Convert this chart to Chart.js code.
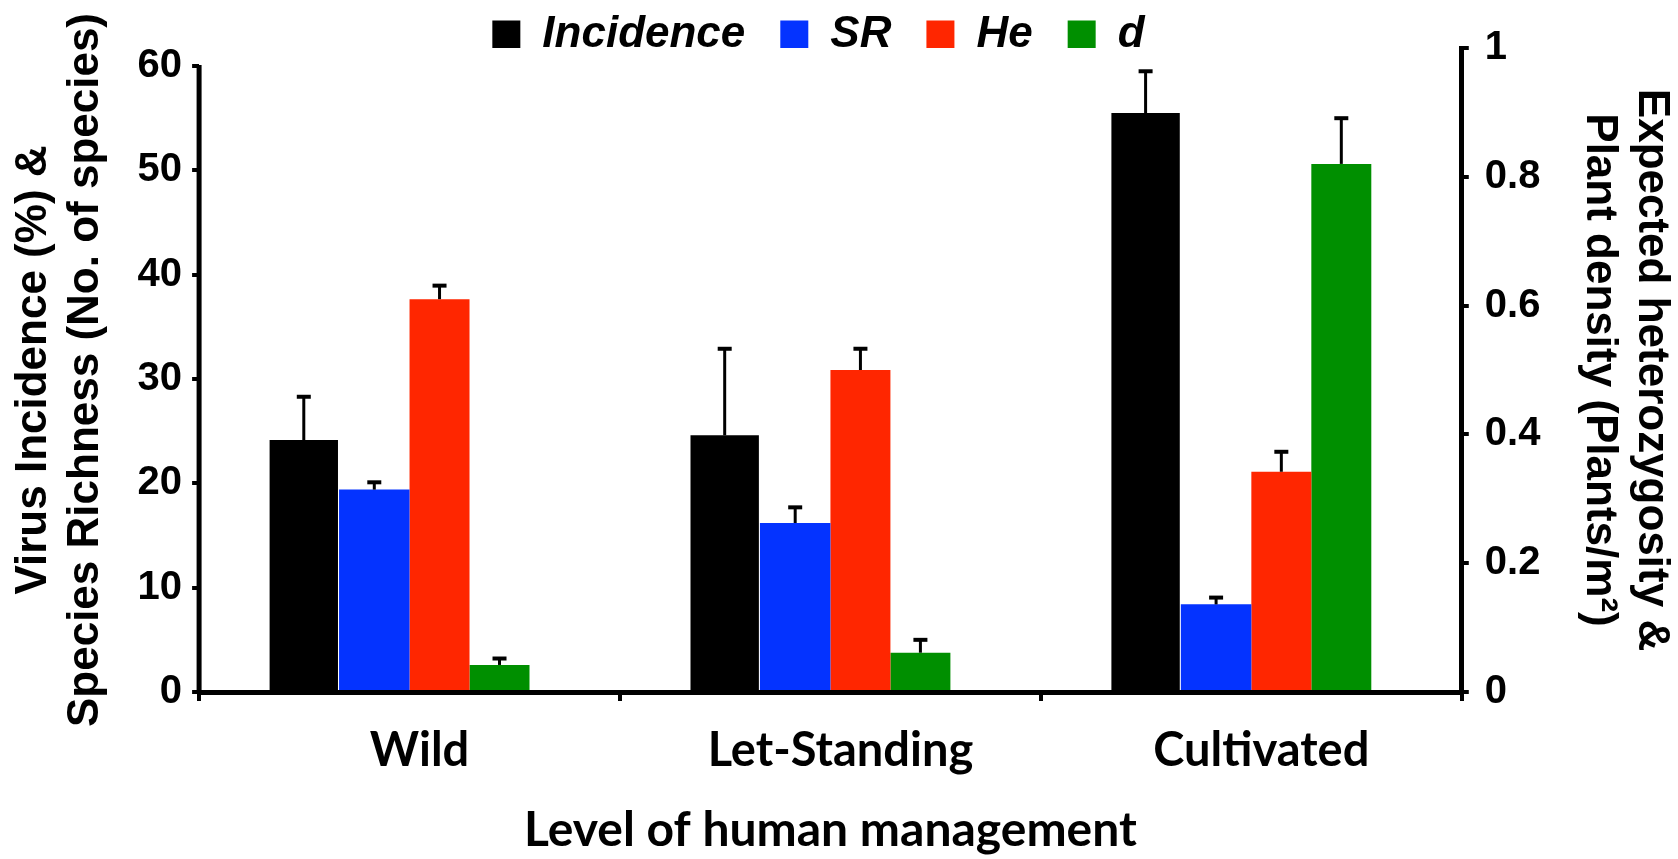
<!DOCTYPE html>
<html>
<head>
<meta charset="utf-8">
<script src="https://cdn.jsdelivr.net/npm/chart.js@4/dist/chart.umd.min.js"></script>
<style>
  html, body { margin: 0; padding: 0; background: #ffffff; }
  #wrap { width: 1678px; height: 859px; }
</style>
</head>
<body>
<div id="wrap"><canvas id="c" width="1678" height="859"></canvas></div>
<script>
// ---- data ----
const categories = ['Wild', 'Let-Standing', 'Cultivated'];
const seriesNames = ['Incidence', 'SR', 'He', 'd'];
const incidence = [24.15, 24.6, 55.5];
const incidenceErr = [4.15, 8.3, 4.0];
const speciesRichness = [19.4, 16.2, 8.4];
const speciesRichnessErr = [0.7, 1.5, 0.65];
const heterozygosity = [0.61, 0.50, 0.342];
const heterozygosityErr = [0.021, 0.033, 0.031];
const density = [0.042, 0.061, 0.82];
const densityErr = [0.010, 0.020, 0.071];
const leftTicks = [0, 10, 20, 30, 40, 50, 60];
const rightTicks = [0, 0.2, 0.4, 0.6, 0.8, 1];
const rightTickLabels = ['0', '0.2', '0.4', '0.6', '0.8', '1'];
const leftTitle = ['Virus Incidence (%) &', 'Species Richness (No. of species)'];
const rightTitle = ['Expected heterozygosity &', 'Plant density (Plants/m\u00B2)'];
const xTitle = 'Level of human management';

const ARIAL = '"Liberation Sans", Arial, Helvetica, sans-serif';
const CALIBRI = 'Lato, "Open Sans", sans-serif';

// the left axis value that sits at the same height as 1 on the right axis
const LEFT_MAX = 61.73;

const legendShift = {
  id: 'legendShift',
  afterLayout(chart) {
    const lg = chart.legend;
    if (lg) { lg.left -= 12; lg.right -= 12; }
  }
};

const errorBars = {
  id: 'errorBars',
  afterDatasetsDraw(chart) {
    const ctx = chart.ctx;
    ctx.save();
    ctx.strokeStyle = '#000';
    chart.data.datasets.forEach((ds, i) => {
      const meta = chart.getDatasetMeta(i);
      if (meta.hidden) return;
      const scale = chart.scales[ds.yAxisID];
      meta.data.forEach((bar, j) => {
        const topPx = scale.getPixelForValue(ds.data[j] + ds.errPlus[j]);
        ctx.lineWidth = 3;
        ctx.beginPath();
        ctx.moveTo(bar.x, bar.y);
        ctx.lineTo(bar.x, topPx);
        ctx.stroke();
        ctx.lineWidth = 4;
        ctx.beginPath();
        ctx.moveTo(bar.x - 7, topPx);
        ctx.lineTo(bar.x + 7, topPx);
        ctx.stroke();
      });
    });
    // left axis line, running from 0 to the top tick only
    const yl = chart.scales.yLeft;
    const x = chart.chartArea.left;
    ctx.lineWidth = 5;
    ctx.beginPath();
    ctx.moveTo(x, yl.getPixelForValue(leftTicks[0]) + 2);
    ctx.lineTo(x, yl.getPixelForValue(leftTicks[leftTicks.length - 1]) - 1);
    ctx.stroke();
    ctx.restore();
  }
};

new Chart(document.getElementById('c'), {
  type: 'bar',
  data: {
    labels: categories,
    datasets: [
      { label: seriesNames[0], data: incidence, errPlus: incidenceErr, yAxisID: 'yLeft',
        backgroundColor: '#000000', borderWidth: 0, categoryPercentage: 0.67, barPercentage: 0.97 },
      { label: seriesNames[1], data: speciesRichness, errPlus: speciesRichnessErr, yAxisID: 'yLeft',
        backgroundColor: '#0433FF', borderWidth: 0, categoryPercentage: 0.67, barPercentage: 1.0 },
      { label: seriesNames[2], data: heterozygosity, errPlus: heterozygosityErr, yAxisID: 'yRight',
        backgroundColor: '#FF2600', borderWidth: 0, categoryPercentage: 0.57, barPercentage: 1.0 },
      { label: seriesNames[3], data: density, errPlus: densityErr, yAxisID: 'yRight',
        backgroundColor: '#008F00', borderWidth: 0, categoryPercentage: 0.57, barPercentage: 1.0 }
    ]
  },
  options: {
    responsive: false,
    devicePixelRatio: 1,
    animation: false,
    layout: { padding: { top: -22, left: 0, right: 0, bottom: 0 } },
    plugins: {
      tooltip: { enabled: false },
      legend: {
        position: 'top',
        fullSize: false,
        maxHeight: 70,
        labels: {
          boxWidth: 28,
          boxHeight: 29,
          padding: 35,
          color: '#000',
          font: { family: ARIAL, size: 44, style: 'italic', weight: 'bold' }
        }
      }
    },
    scales: {
      x: {
        type: 'category',
        grid: { display: true, drawOnChartArea: false, drawTicks: true, tickLength: 9,
                color: '#000', lineWidth: 4, offset: true },
        border: { display: true, color: '#000', width: 5, z: 1 },
        ticks: { color: '#000', padding: 22, maxRotation: 0, labelOffset: 10,
                 font: { family: CALIBRI, size: 47, weight: 'bold', lineHeight: 1.2 } },
        title: { display: true, text: xTitle, color: '#000', padding: { top: 0, bottom: 0 },
                 font: { family: CALIBRI, size: 48, weight: 'bold', lineHeight: 1.2 } }
      },
      yLeft: {
        type: 'linear',
        position: 'left',
        min: 0,
        max: LEFT_MAX,
        afterBuildTicks(scale) {
          scale.ticks = leftTicks.map(v => ({ value: v }));
        },
        grid: { display: true, drawOnChartArea: false, drawTicks: true, tickLength: 7,
                color: '#000', lineWidth: 4 },
        border: { display: false },
        ticks: { color: '#000', padding: 10,
                 font: { family: ARIAL, size: 40, weight: 'bold', lineHeight: 1.2 } },
        title: { display: true, text: leftTitle, color: '#000', padding: { top: 7, bottom: 15 },
                 font: { family: ARIAL, size: 44, weight: 'bold', lineHeight: 1.2 } }
      },
      yRight: {
        type: 'linear',
        position: 'right',
        min: 0,
        max: 1,
        afterBuildTicks(scale) {
          scale.ticks = rightTicks.map(v => ({ value: v }));
        },
        grid: { display: true, drawOnChartArea: false, drawTicks: true, tickLength: 7,
                color: '#000', lineWidth: 4 },
        border: { display: true, color: '#000', width: 5, z: 1 },
        ticks: { color: '#000', padding: 16,
                 callback: (v, i) => rightTickLabels[i],
                 font: { family: ARIAL, size: 40, weight: 'bold', lineHeight: 1.2 } },
        title: { display: true, text: rightTitle, color: '#000', padding: { top: 0, bottom: 16 },
                 font: { family: ARIAL, size: 44, weight: 'bold', lineHeight: 1.2 } }
      }
    }
  },
  plugins: [legendShift, errorBars]
});
</script>
</body>
</html>
